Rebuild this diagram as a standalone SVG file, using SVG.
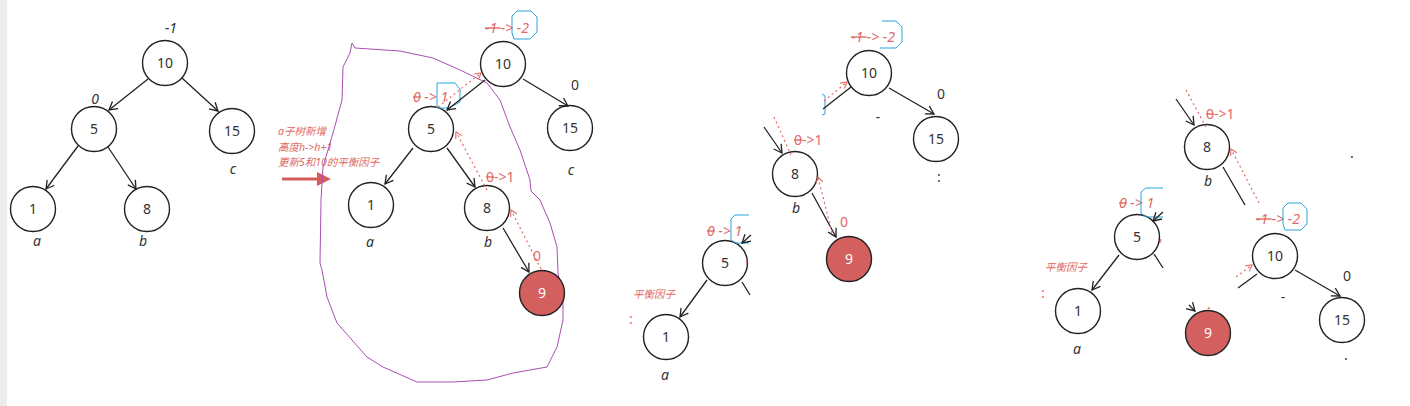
<svg xmlns="http://www.w3.org/2000/svg" width="1410" height="406" viewBox="0 0 1410 406">
<defs>
<marker id="ah" markerWidth="12" markerHeight="12" refX="10" refY="6" orient="auto" markerUnits="userSpaceOnUse"><path d="M2,1.5 L10,6 L2,10.5" fill="none" stroke="#222" stroke-width="1.3"/></marker>
<marker id="ahr" markerWidth="10" markerHeight="10" refX="8" refY="5" orient="auto" markerUnits="userSpaceOnUse"><path d="M2,1.5 L8,5 L2,8.5" fill="none" stroke="#e06a66" stroke-width="1.1"/></marker>
<marker id="tri" markerWidth="16" markerHeight="16" refX="2" refY="8" orient="auto" markerUnits="userSpaceOnUse"><path d="M0,1 L14,8 L0,15 Z" fill="#d45c5c"/></marker>
</defs>
<style>
.n{fill:#fff;stroke:#222;stroke-width:1.4}
.hot{fill:#d35f5f;stroke:#222;stroke-width:1.4}
.t{font-family:"Noto Sans","Open Sans",sans-serif;font-size:14px;fill:#333;text-anchor:middle}
.tw{font-family:"Noto Sans","Open Sans",sans-serif;font-size:14px;fill:#fff;text-anchor:middle}
.lb{font-family:"Noto Sans","Open Sans",sans-serif;font-size:14px;fill:#333;font-style:italic;text-anchor:middle}
.lbu{font-family:"Noto Sans","Open Sans",sans-serif;font-size:14px;fill:#333;text-anchor:middle}
.r{font-family:"Noto Sans","Open Sans",sans-serif;font-size:14px;fill:#e06a66;font-style:italic}
.ru{font-family:"Noto Sans","Open Sans",sans-serif;font-size:14px;fill:#e06a66}
.cn{font-family:"Noto Sans","Noto Sans CJK SC",sans-serif;font-size:10.5px;fill:#e06a66;font-style:italic}
.e{stroke:#222;stroke-width:1.3;fill:none;marker-end:url(#ah)}
.l{stroke:#222;stroke-width:1.3;fill:none}
.d{stroke:#e06a66;stroke-width:1.2;stroke-dasharray:2 3;fill:none;marker-end:url(#ahr)}
.dn{stroke:#e06a66;stroke-width:1.2;stroke-dasharray:2 3;fill:none}
.bl{stroke:#29a3e0;stroke-width:1;fill:none}
.s{text-decoration:line-through}
</style>
<rect x="0" y="0" width="1410" height="406" fill="#fff"/>
<rect x="0" y="0" width="7" height="406" fill="#ececec"/>

<!-- Tree 1 -->
<g id="t1-n10"><circle class="n" cx="165" cy="63" r="22.5"/><text class="t" x="165" y="68">10</text><text class="lb" x="171" y="33">-1</text></g>
<g id="t1-n5"><circle class="n" cx="94" cy="129" r="22.5"/><text class="t" x="94" y="134">5</text><text class="lb" x="95" y="104">0</text></g>
<g id="t1-n15"><circle class="n" cx="232" cy="131" r="22.5"/><text class="t" x="232" y="136">15</text><text class="lb" x="233" y="174">c</text></g>
<g id="t1-n1"><circle class="n" cx="33" cy="209" r="22.5"/><text class="t" x="33" y="214">1</text><text class="lb" x="37" y="246">a</text></g>
<g id="t1-n8"><circle class="n" cx="147" cy="209" r="22.5"/><text class="t" x="147" y="214">8</text><text class="lb" x="143" y="246">b</text></g>

<!-- annotation -->
<g id="note">
<text class="cn" x="278" y="135">a子树新增</text>
<text class="cn" x="278" y="151">高度h-&gt;h+1</text>
<text class="cn" x="278" y="166">更新5和10的平衡因子</text>
<line x1="282" y1="179" x2="319" y2="179" stroke="#d45c5c" stroke-width="3" marker-end="url(#tri)"/>
</g>

<!-- lasso -->
<path id="lasso" d="M352,43 L355,48 L400,51 L433,58 L460,70 L487,83 L500,100 L510,127 L520,150 L530,180 L531,191 L540,200 L550,223 L557,247 L558,273 L563,297 L563,320 L557,347 L547,367 L513,373 L487,380 L453,382 L417,382 L383,367 L367,357 L337,323 L327,297 L322,270 L320,263 L321,200 L323,167 L333,133 L342,100 L343,67 L350,53 Z" fill="none" stroke="#a94fb3" stroke-width="1"/>

<!-- Tree 2 -->
<g id="t2-n10"><circle class="n" cx="503" cy="64" r="22.5"/><text class="t" x="503" y="69">10</text>
<text class="r" x="485" y="33"><tspan class="s">-1 </tspan>-&gt; -2</text>
<path class="bl" d="M517,11 L531,11 L537,17 L537,32 L530,39 L514,39 L512,33 L512,16 Z"/></g>
<g id="t2-n15"><circle class="n" cx="570" cy="128" r="22.5"/><text class="t" x="570" y="133">15</text><text class="lbu" x="575" y="90">0</text><text class="lb" x="571" y="175">c</text></g>
<g id="t2-n5"><circle class="n" cx="431" cy="129" r="22.5"/><text class="t" x="431" y="134">5</text>
<text class="r" x="413" y="102"><tspan class="s">0</tspan> -&gt; 1</text>
<path class="bl" d="M437,83 L455,83 L460,89 L460,102 L449,108 L437,108 Z"/></g>
<g id="t2-n1"><circle class="n" cx="371" cy="205" r="22.5"/><text class="t" x="371" y="210">1</text><text class="lb" x="370" y="247">a</text></g>
<g id="t2-n8"><circle class="n" cx="487" cy="208" r="22.5"/><text class="t" x="487" y="213">8</text><text class="lb" x="488" y="247">b</text>
<text class="ru" x="486" y="182"><tspan class="s">0</tspan>-&gt;1</text></g>
<g id="t2-n9"><circle class="hot" cx="542" cy="293" r="22.5"/><text class="tw" x="542" y="298">9</text><text class="ru" x="533" y="261">0</text></g>

<!-- Tree 3 -->
<g id="t3-n10"><circle class="n" cx="869" cy="73" r="22.5"/><text class="t" x="869" y="78">10</text>
<text class="r" x="851" y="42"><tspan class="s">-1 </tspan>-&gt; -2</text>
<path class="bl" d="M882,21 L896,21 L902,27 L902,42 L896,48 L880,48"/>
<path class="bl" d="M822,94 L825,96 L825,114 L822,115"/>
<text class="lbu" x="878" y="122" fill="#bbb" font-size="10">-</text></g>
<g id="t3-n15"><circle class="n" cx="936" cy="139" r="22.5"/><text class="t" x="936" y="144">15</text><text class="lbu" x="941" y="99">0</text><text class="lbu" x="939" y="182" font-size="9">:</text></g>
<g id="t3-n8"><circle class="n" cx="795" cy="174" r="22.5"/><text class="t" x="795" y="179">8</text><text class="lb" x="796" y="213">b</text>
<text class="ru" x="794" y="145"><tspan class="s">0</tspan>-&gt;1</text></g>
<g id="t3-n9"><circle class="hot" cx="849" cy="259" r="22.5"/><text class="tw" x="849" y="264">9</text><text class="ru" x="840" y="227">0</text></g>
<g id="t3-n5"><circle class="n" cx="725" cy="263" r="22.5"/><text class="t" x="725" y="268">5</text>
<text class="r" x="707" y="236"><tspan class="s">0</tspan> -&gt; 1</text>
<path class="bl" d="M749,215 L735,215 L731,219 L731,240 L736,243 L749,243"/>
<text class="ru" x="745" y="270" font-size="8">'</text></g>
<g id="t3-n1"><circle class="n" cx="666" cy="337" r="22.5"/><text class="t" x="666" y="342">1</text><text class="lb" x="665" y="380">a</text>
<text class="cn" x="633" y="298">平衡因子</text><text class="ru" x="629" y="324" font-size="7">:</text></g>

<!-- Tree 4 -->
<g id="t4-n8"><circle class="n" cx="1207" cy="147" r="22.5"/><text class="t" x="1207" y="152">8</text><text class="lb" x="1208" y="186">b</text>
<text class="ru" x="1206" y="119"><tspan class="s">0</tspan>-&gt;1</text>
<text class="lbu" x="1352" y="158" fill="#999" font-size="8">.</text></g>
<g id="t4-n10"><circle class="n" cx="1275" cy="256" r="22.5"/><text class="t" x="1275" y="261">10</text>
<text class="r" x="1256" y="224"><tspan class="s">-1 </tspan>-&gt; -2</text>
<path class="bl" d="M1288,203 L1301,203 L1307,209 L1307,224 L1301,230 L1285,230 L1283,224 L1283,208 Z"/>
<text class="lbu" x="1283" y="302" fill="#bbb" font-size="10">-</text></g>
<g id="t4-n15"><circle class="n" cx="1342" cy="320" r="22.5"/><text class="t" x="1342" y="325">15</text><text class="lbu" x="1347" y="281">0</text><text class="lbu" x="1346" y="360" font-size="8">.</text></g>
<g id="t4-n9"><circle class="hot" cx="1208" cy="333" r="22.5"/><text class="tw" x="1208" y="338">9</text><text class="ru" x="1207" y="309" font-size="6">.</text></g>
<g id="t4-n5"><circle class="n" cx="1137" cy="237" r="22.5"/><text class="t" x="1137" y="242">5</text>
<text class="r" x="1119" y="208"><tspan class="s">0</tspan> -&gt; 1</text>
<path class="bl" d="M1163,188 L1146,188 L1141,192 L1141,213 L1146,217 L1163,217"/>
<text class="ru" x="1159" y="249" font-size="8">'</text></g>
<g id="t4-n1"><circle class="n" cx="1078" cy="311" r="22.5"/><text class="t" x="1078" y="316">1</text><text class="lb" x="1077" y="354">a</text>
<text class="cn" x="1045" y="271">平衡因子</text><text class="ru" x="1041" y="298" font-size="7">:</text></g>

<g id="connectors">
<!-- tree 1 -->
<line class="e" x1="148" y1="79" x2="109" y2="110"/>
<line class="e" x1="182" y1="78" x2="218" y2="111"/>
<line class="e" x1="78" y1="146" x2="46" y2="189"/>
<line class="e" x1="108" y1="147" x2="136" y2="189"/>
<!-- tree 2 -->
<line class="e" x1="485" y1="80" x2="447" y2="110"/>
<line class="e" x1="523" y1="79" x2="568" y2="106"/>
<line class="e" x1="413" y1="148" x2="385" y2="184"/>
<line class="e" x1="447" y1="148" x2="475" y2="187"/>
<line class="e" x1="503" y1="228" x2="529" y2="272"/>
<line class="d" x1="438" y1="107" x2="481" y2="73"/>
<line class="d" x1="487" y1="190" x2="456" y2="132"/>
<line class="d" x1="541" y1="269" x2="511" y2="210"/>
<!-- tree 3 -->
<line class="l" x1="851" y1="87" x2="823" y2="109"/>
<line class="d" x1="824" y1="101" x2="847" y2="82"/>
<line class="e" x1="889" y1="88" x2="934" y2="114"/>
<line class="e" x1="764" y1="127" x2="782" y2="153"/>
<line class="dn" x1="774" y1="117" x2="791" y2="155"/>
<line class="e" x1="812" y1="193" x2="836" y2="237"/>
<line class="d" x1="832" y1="233" x2="818" y2="177"/>
<line class="e" x1="751" y1="235" x2="742" y2="243"/>
<line class="l" x1="742" y1="282" x2="750" y2="295"/>
<line class="e" x1="707" y1="280" x2="680" y2="317"/>
<!-- tree 4 -->
<line class="e" x1="1176" y1="99" x2="1194" y2="125"/>
<line class="dn" x1="1186" y1="90" x2="1206" y2="127"/>
<line class="l" x1="1223" y1="167" x2="1245" y2="205"/>
<line class="d" x1="1259" y1="203" x2="1231" y2="149"/>
<line class="e" x1="1295" y1="270" x2="1340" y2="296"/>
<line class="l" x1="1238" y1="288" x2="1257" y2="274"/>
<line class="d" x1="1236" y1="277" x2="1252" y2="265"/>
<line class="e" x1="1189" y1="305" x2="1195" y2="311"/>
<line class="e" x1="1163" y1="212" x2="1153" y2="221"/>
<line class="l" x1="1154" y1="254" x2="1163" y2="268"/>
<line class="e" x1="1119" y1="255" x2="1092" y2="290"/>
</g>
</svg>
